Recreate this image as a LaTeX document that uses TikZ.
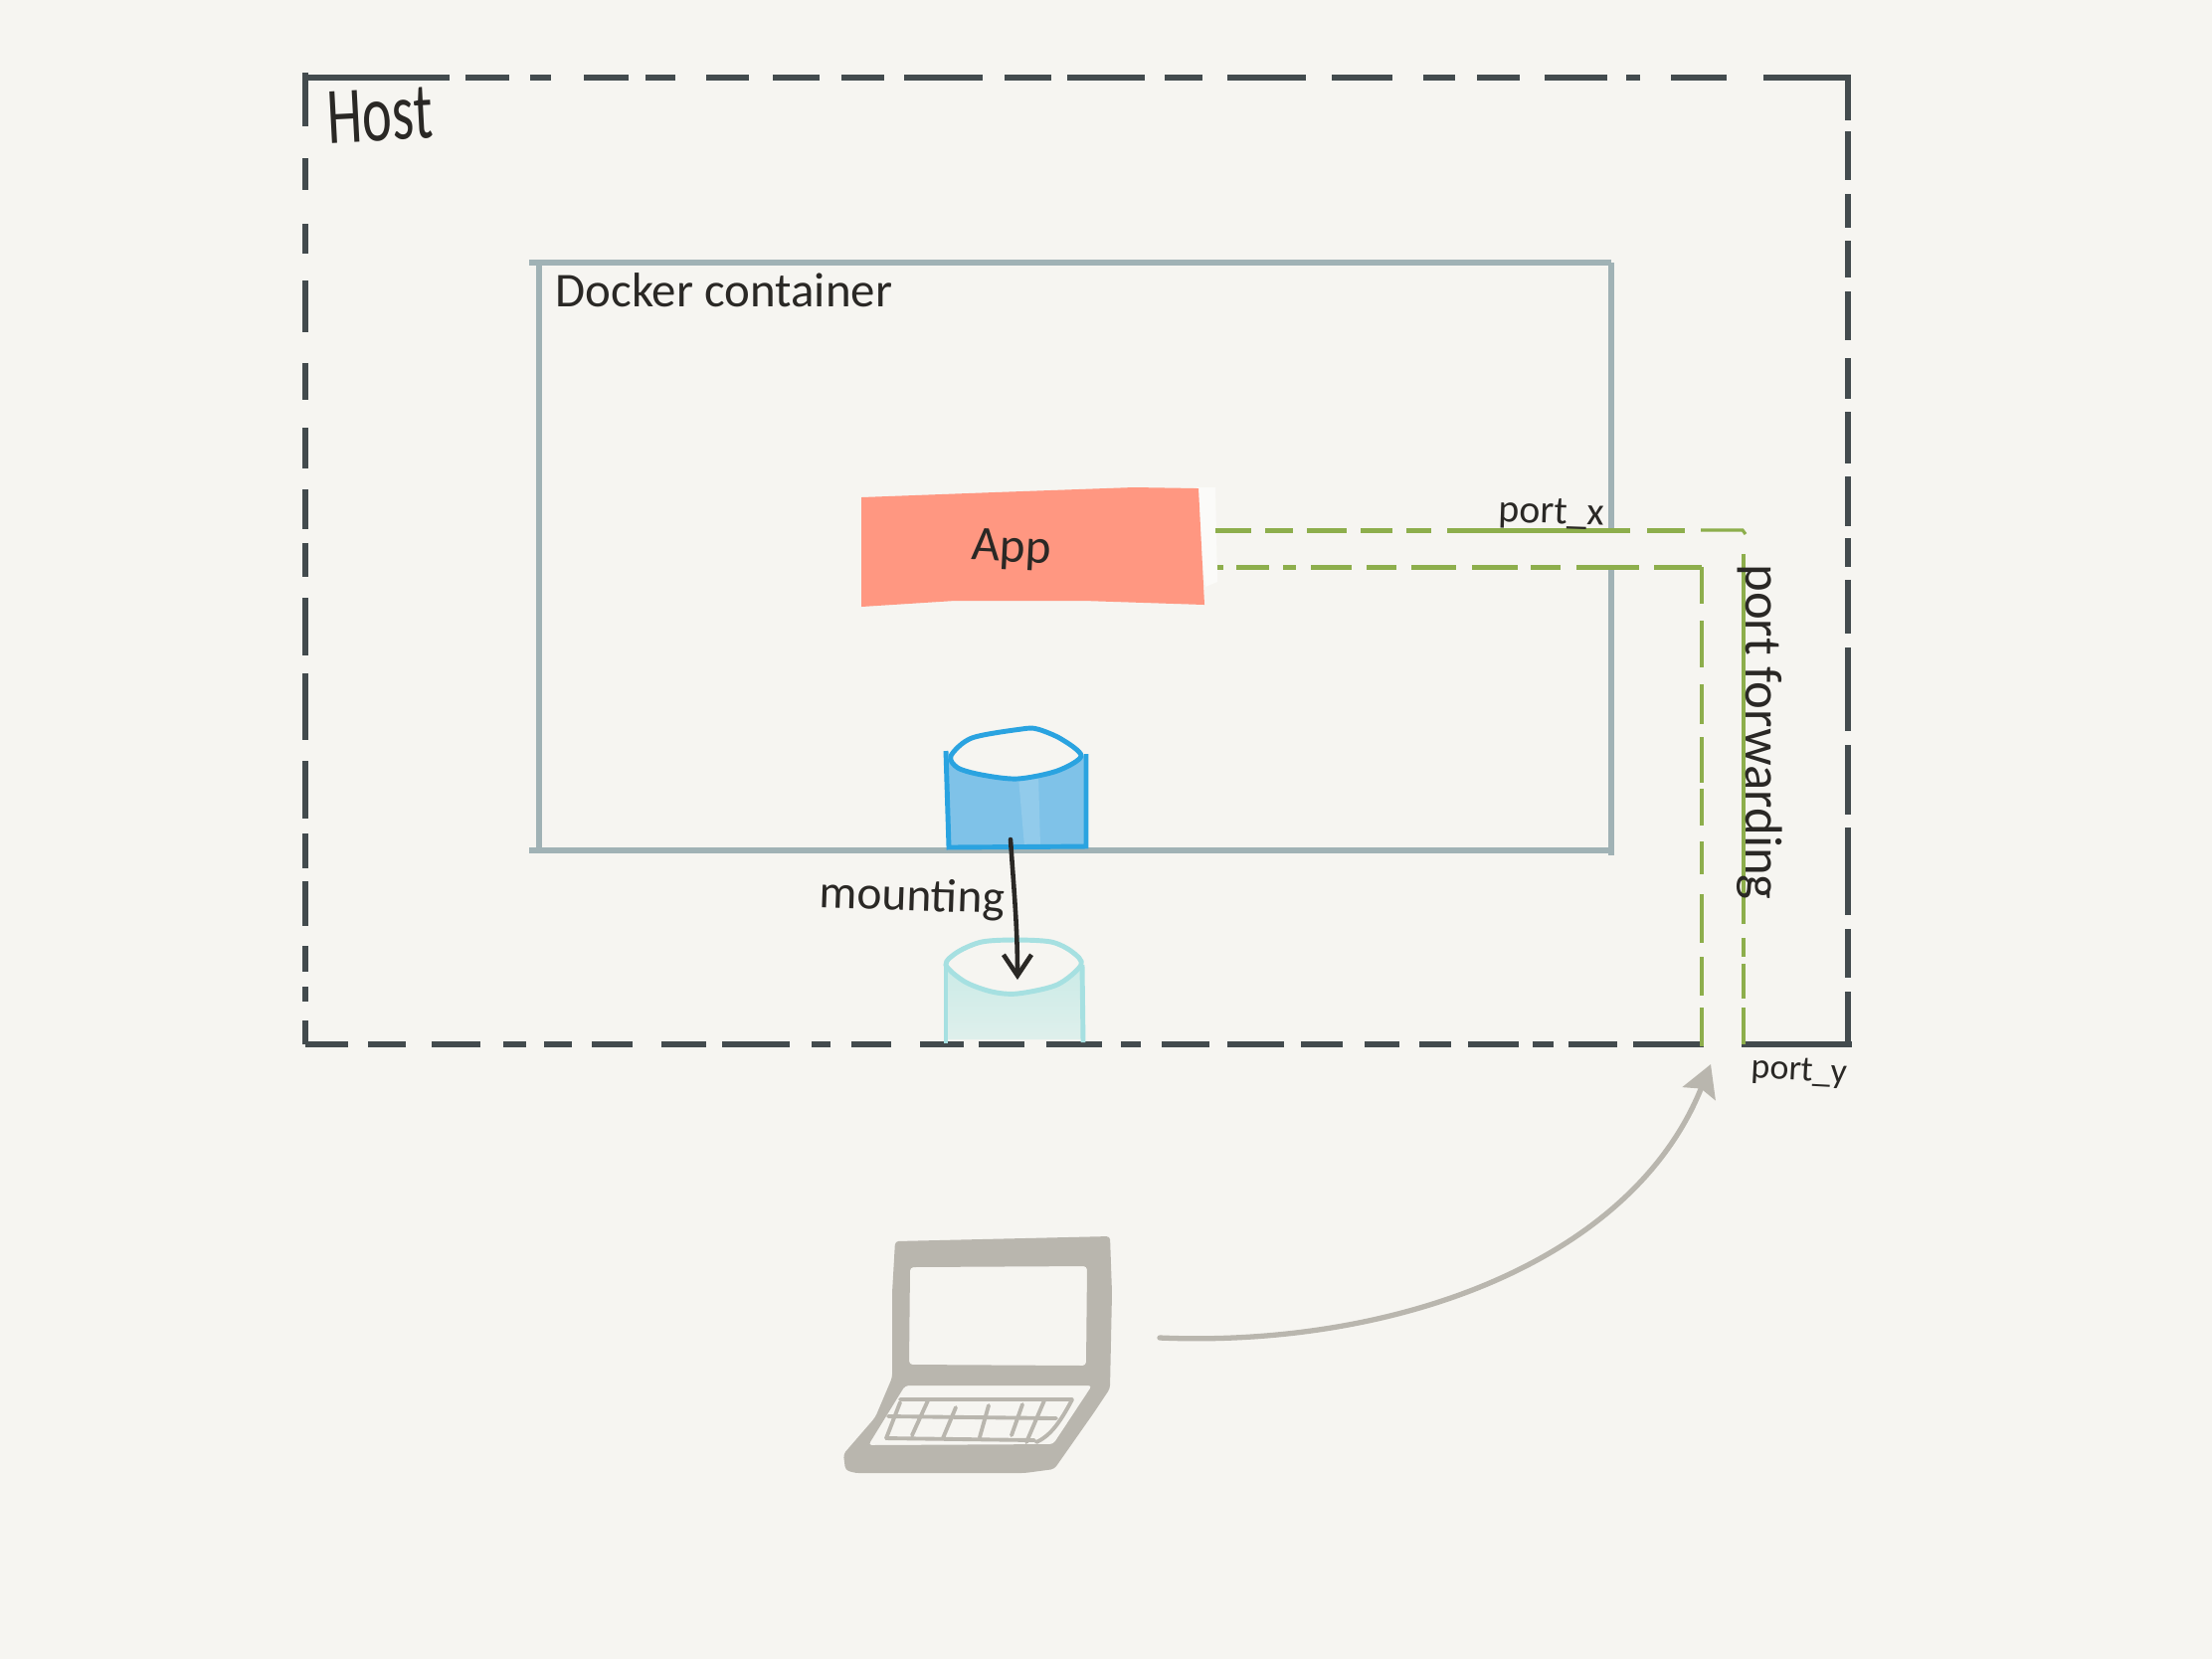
\documentclass[tikz,border=0pt]{standalone}
\usepackage{fontspec}
\setmainfont{Carlito}
\usetikzlibrary{arrows.meta}
\definecolor{paper}{HTML}{F6F5F1}
\definecolor{inkblack}{HTML}{2A2825}
\definecolor{hostgray}{HTML}{434B4E}
\definecolor{dockergray}{HTML}{A0B2B5}
\definecolor{fwdgreen}{HTML}{8DAE4C}
\definecolor{appred}{HTML}{FF9781}
\definecolor{volblue}{HTML}{7FC2E8}
\definecolor{volline}{HTML}{2AA3E0}
\definecolor{mntcyan}{HTML}{CBEBE7}
\definecolor{mntline}{HTML}{A6E0E1}
\definecolor{laptopgray}{HTML}{B9B6AE}
\tikzset{
  hostline/.style={draw=hostgray, line width=1.9pt},
  dockerline/.style={draw=dockergray, line width=1.5pt},
  fwdline/.style={draw=fwdgreen, line width=1.4pt},
  volume/.style={draw=volline, line width=1.4pt},
  mntvolume/.style={draw=mntline, line width=1.4pt},
  hand/.style={text=inkblack, inner sep=0pt},
}
\begin{document}
\begin{tikzpicture}[x=0.01cm,y=-0.01cm]
    \useasboundingbox (0,0) rectangle (2224,1668);
    \fill[paper] (0,0) rectangle (2224,1668);

    % App box
    \fill[white!60!paper] (1200,490) -- (1222,490) -- (1224,585) -- (1212,590) -- cycle;
    \fill[appred] (866,500) -- (1000,495) -- (1140,490) -- (1205,491) -- (1211,608) -- (1090,604) -- (960,604) -- (866,610) -- cycle;
    \node[hand, font=\fontsize{14}{14}\selectfont, rotate=-3] (applabel) at (1017,553) {App};

    % Docker container
    \draw[dockerline] (532,264) -- (1620,264);
    \draw[dockerline] (542,264) -- (542,855);
    \draw[dockerline] (532,855) -- (1623,855);
    \draw[dockerline] (1620,264) -- (1620,533);
    \draw[dockerline] (1620,571) -- (1620,860);
    \node[hand, font=\fontsize{13.9}{14}\selectfont, anchor=west] (dockerlabel) at (558,292) {Docker container};

    % mounted volume
    \shade[top color=mntcyan, bottom color=mntcyan!55!paper] (951,970) -- (970,987) -- (997,997) -- (1023,999) -- (1063,990) -- (1088,970) -- (1089,1045) -- (951,1045) -- cycle;

    % Host
    \foreach \a/\b in {306/452,468/512,533/554,587/632,649/679,710/753,777/824,846/889,909/988,1010/1057,1073/1151,1171/1209,1234/1313,1339/1400,1431/1463,1485/1528,1553/1616,1635/1649,1680/1736,1773/1861}
      \draw[hostline] (\a,78) -- (\b,78);
    \foreach \a/\b in {307/350,370/408,434/483,506/529,547/575,595/636,665/710,726/794,816/835,856/896,925/969,984/1030,1052/1108,1127/1147,1168/1216,1234/1291,1308/1350,1372/1407,1427/1459,1476/1527,1541/1562,1577/1626,1642/1713,1751/1862}
      \draw[hostline] (\a,1050) -- (\b,1050);
    \foreach \a/\b in {73/127,159/191,225/255,282/334,365/402,430/471,492/532,546/580,601/659,677/744,765/823,838/873,886/931,951/977,992/1007,1026/1050}
      \draw[hostline, line width=1.5pt] (307,\a) -- (307,\b);
    \foreach \a/\b in {76/121,132/181,195/229,242/279,293/342,360/401,414/466,479/529,541/570,583/637,651/735,749/819,832/920,934/983,997/1050}
      \draw[hostline, line width=1.5pt] (1858,\a) -- (1858,\b);
    \node[hand, font=\fontsize{23}{23}\selectfont, rotate=3, xscale=0.7, transform shape] (hostlabel) at (382,116) {Host};

    % port forwarding, upper and lower lines
    \foreach \a/\b in {1222/1258,1272/1300,1314/1354,1368/1400,1414/1439,1455/1639,1656/1694}
      \draw[fwdline] (\a,533.5) -- (\b,533.5);
    \draw[fwdline, line width=0.9pt] (1710,533) -- (1752,533) -- (1755,537);
    \foreach \a/\b in {1224/1230,1243/1276,1290/1303,1318/1359,1374/1404,1419/1464,1480/1526,1539/1569,1585/1648,1663/1711}
      \draw[fwdline] (\a,570.5) -- (\b,570.5);
    \foreach \a/\b in {570/607,624/671,688/728,741/787,793/830,846/879,899/948,962/1001,1013/1052}
      \draw[fwdline] (1711,\a) -- (1711,\b);
    \foreach \a/\b in {557/929,943/962,969/1004,1013/1050}
      \draw[fwdline] (1753,\a) -- (1753,\b);
    \node[hand, font=\fontsize{11.3}{12}\selectfont, rotate=-2] (portxlabel) at (1560,517) {port\_x};
    \node[hand, font=\fontsize{10.2}{12}\selectfont, rotate=-3] (portylabel) at (1809,1078) {port\_y};
    \node[hand, font=\fontsize{15}{15}\selectfont, rotate=-90] (fwdlabel) at (1769,736) {port forwarding};

    % container volume
    \fill[volblue] (954,760) -- (963,772) -- (987,779) -- (1023,783) -- (1063,775) -- (1091,760) -- (1092,852) -- (954,852) -- cycle;
    \fill[volblue!85!white] (1024,782) -- (1044,778) -- (1046,851) -- (1030,851) -- cycle;
    \draw[volume] plot [smooth cycle] coordinates {(956,760) (977,742) (1027,733) (1043,733) (1067,743) (1087,760) (1063,775) (1023,783) (987,779) (963,772)};
    \draw[volume] (951,755) -- (954,852) -- (1092,851) -- (1092,758);

    % mounted volume lines
    \draw[mntvolume] plot [smooth cycle] coordinates {(951,970) (963,957) (987,947) (1020,945) (1057,947) (1078,957) (1087,970) (1063,990) (1023,999) (997,997) (970,987)};
    \draw[mntvolume] (951,970) -- (951,1049);
    \draw[mntvolume] (1088,970) -- (1089,1048);

    % mounting
    \coordinate (volbase) at (1016,844);
    \coordinate (mnttop) at (1023,985);
    \draw[inkblack, line width=1.3pt, line cap=round, -{Straight Barb[length=6pt,width=8pt]}] (volbase) .. controls (1019,890) and (1023,930) .. (mnttop);
    \node[hand, font=\fontsize{13.5}{14}\selectfont, rotate=-2] (mountlabel) at (917,903) {mounting};

    % laptop
    \fill[laptopgray, even odd rule, rounded corners=1pt] (900,1248) -- (1116,1243) -- (1118,1300) -- (1116,1396) -- (1100,1420) -- (1060,1477) -- (1030,1481) -- (860,1481) -- (850,1478) -- (848,1462) -- (880,1425) -- (897,1385) -- (897,1300) -- cycle
      (915,1274) -- (1093,1273) -- (1092,1373) -- (914,1372) -- cycle
      (910,1393) -- (1098,1393) -- (1059,1452) -- (873,1453) -- cycle;
    \draw[laptopgray, line width=1.1pt, line cap=round]
      (905,1407) -- (1078,1407) (893,1424) -- (1062,1426) (891,1446) -- (1040,1448)
      (1078,1407) .. controls (1065,1432) and (1055,1444) .. (1042,1450)
      (905,1410) -- (891,1446) (933,1408) -- (917,1443) (961,1415) -- (948,1446)
      (994,1413) -- (985,1445) (1028,1412) -- (1017,1443) (1050,1408) -- (1032,1450);

    % laptop to host port
    \coordinate (laptopout) at (1166,1345);
    \coordinate (hostport) at (1720,1070);
    \draw[laptopgray, line width=1.5pt, line cap=round, -{Stealth[length=9pt,width=10pt,inset=1.5pt]}] (laptopout) .. controls (1400,1355) and (1640,1270) .. (hostport);
\end{tikzpicture}
\end{document}
